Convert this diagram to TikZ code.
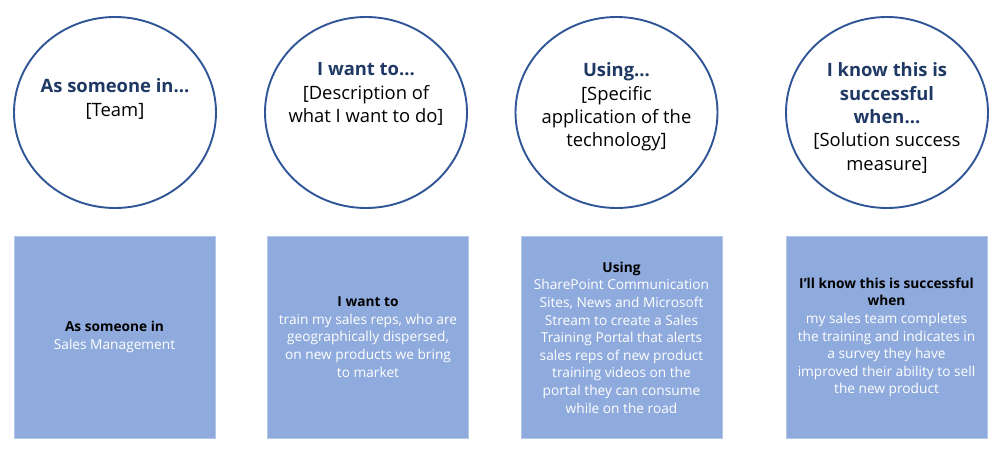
\documentclass[tikz,border=0pt]{standalone}
\usepackage{fontspec}
\setmainfont{Open Sans}
\usetikzlibrary{shapes.geometric}
\definecolor{ringblue}{HTML}{2F5597}
\definecolor{titlenavy}{HTML}{1F3864}
\definecolor{boxfill}{HTML}{8FAADC}
\definecolor{boxedge}{HTML}{B4C7E7}
\tikzset{
  ring/.style={ellipse, draw=ringblue, line width=1.9bp, minimum width=202bp, minimum height=191bp, inner sep=0pt},
  ringtext/.style={align=center, font=\fontsize{18.4bp}{23.4bp}\selectfont, text=black, inner sep=0pt},
  card/.style={rectangle, fill=boxfill, draw=boxedge, line width=0.6bp, minimum width=201bp, minimum height=202bp, inner sep=0pt},
  cardtext/.style={align=center, font=\fontsize{13.7bp}{17.6bp}\selectfont, text=white, inner sep=0pt}
}
\newcommand{\rtitle}[1]{{\bfseries\color{titlenavy}#1}}
\newcommand{\ctitle}[1]{{\bfseries\color{black}#1}}
\begin{document}
\begin{tikzpicture}[x=1bp, y=-1bp]
\useasboundingbox (0,0) rectangle (998,451);
% circles
\node[ring] (c1) at (115,112.5) {};
\node[ring] (c2) at (366,112.5) {};
\node[ring] (c3) at (616.5,112.5) {};
\node[ring] (c4) at (887,112.5) {};
\node[ringtext] (t1) at (115,99) {\rtitle{As someone in...}\\ {[}Team{]}};
\node[ringtext] (t2) at (366,94) {\rtitle{I want to...}\\ {[}Description of\\ what I want to do{]}};
\node[ringtext] (t3) at (616.5,107) {\rtitle{Using...}\\ {[}Specific\\ application of the\\ technology{]}};
\node[ringtext] (t4) at (887,118) {\rtitle{I know this is}\\ \rtitle{successful}\\ \rtitle{when...}\\ {[}Solution success\\ measure{]}};
% boxes
\node[card] (b1) at (114.5,337) {};
\node[card] (b2) at (368,337) {};
\node[card] (b3) at (621.5,337) {};
\node[card] (b4) at (886.5,337) {};
\node[cardtext] (bt1) at (114.5,337) {\ctitle{As someone in}\\ Sales Management};
\node[cardtext] (bt2) at (368,337) {\ctitle{I want to}\\ train my sales reps, who are\\ geographically dispersed,\\ on new products we bring\\ to market};
\node[cardtext] (bt3) at (621.5,337.5) {\ctitle{Using}\\ SharePoint Communication\\ Sites, News and Microsoft\\ Stream to create a Sales\\ Training Portal that alerts\\ sales reps of new product\\ training videos on the\\ portal they can consume\\ while on the road};
\node[cardtext] (bt4) at (886.5,337.5) {\ctitle{I’ll know this is successful}\\ \ctitle{when}\\ my sales team completes\\ the training and indicates in\\ a survey they have\\ improved their ability to sell\\ the new product};
\end{tikzpicture}
\end{document}
